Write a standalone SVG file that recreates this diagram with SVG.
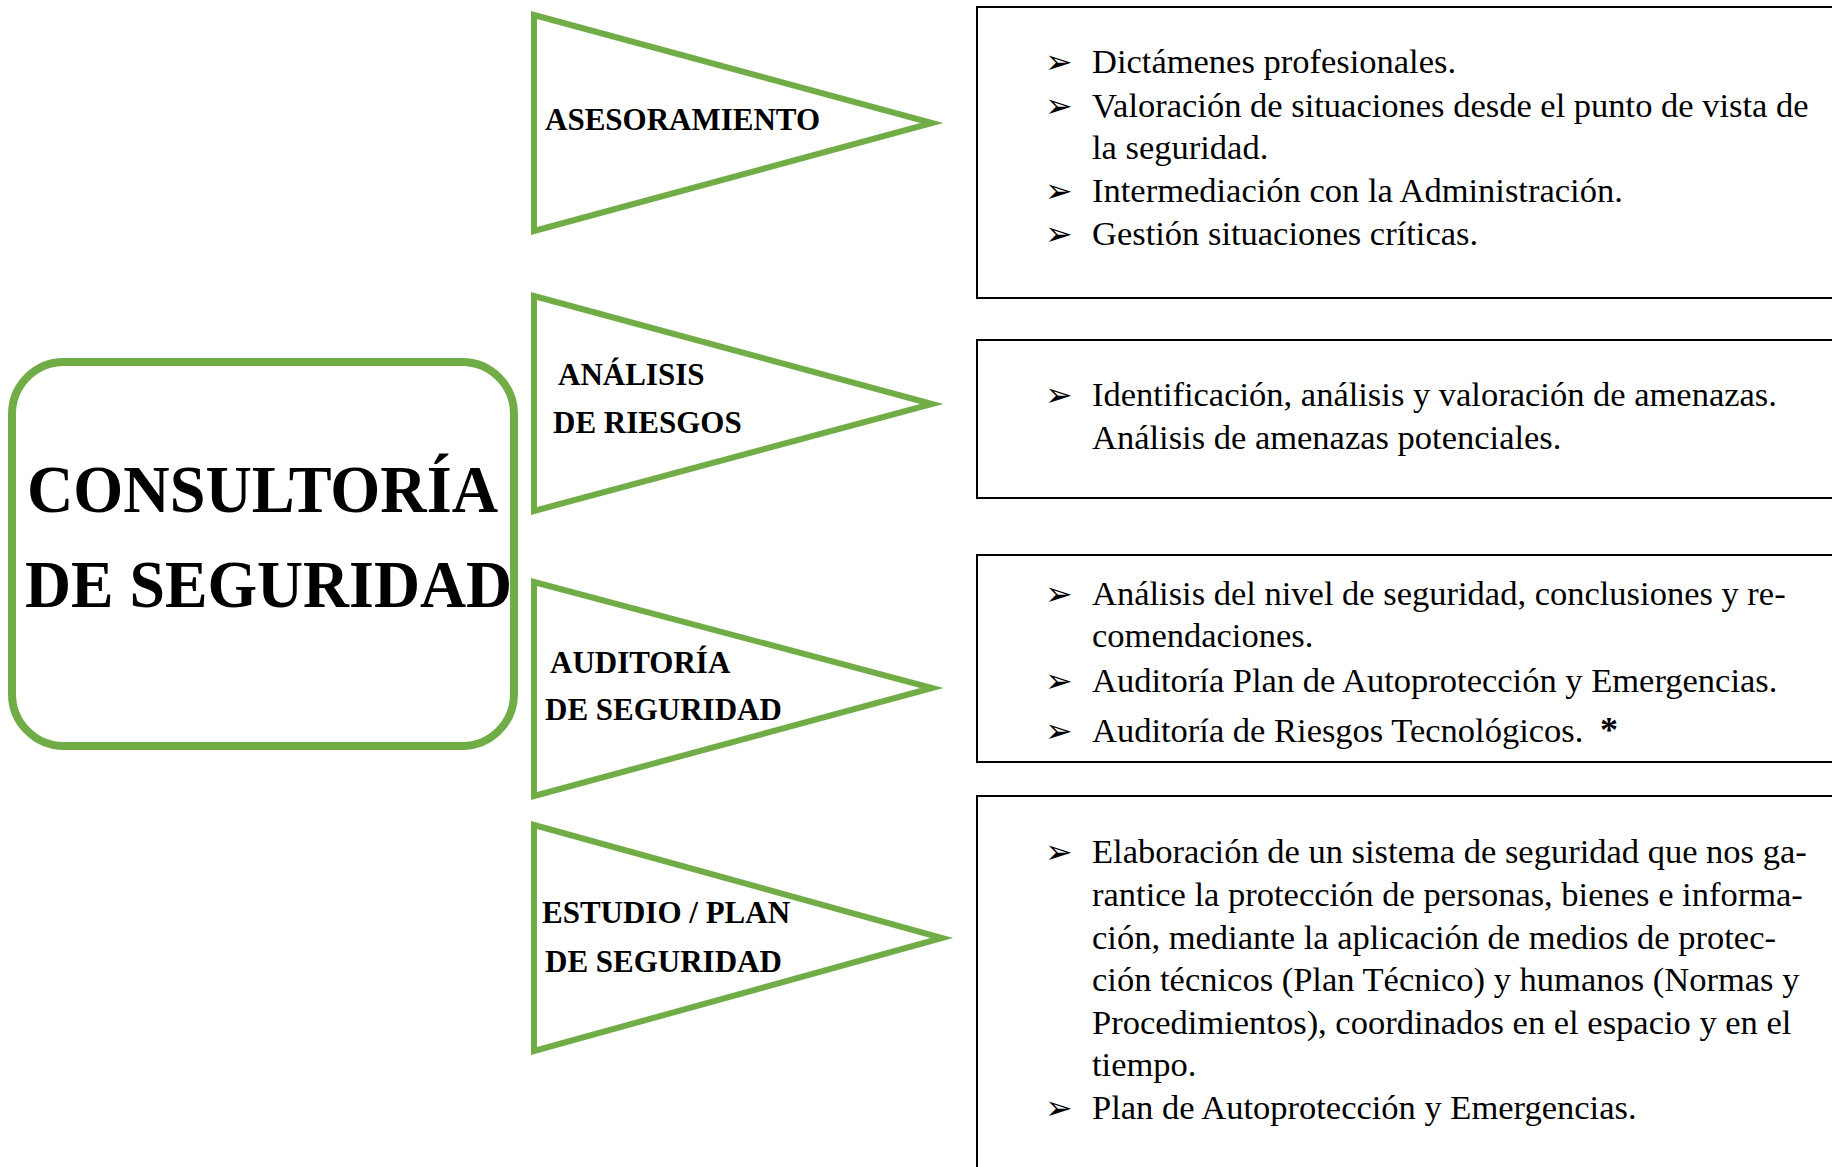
<svg xmlns="http://www.w3.org/2000/svg" width="1832" height="1167" viewBox="0 0 1832 1167">
<style>
.tri{fill:#fff;stroke:#70AD47;stroke-width:6;stroke-linejoin:miter}
.main{fill:#fff;stroke:#70AD47;stroke-width:8}
.box{fill:#fff;stroke:#000;stroke-width:2}
.lbl{font-family:"Liberation Serif","Times New Roman",serif;font-weight:bold;font-size:31px;fill:#000}
.ttl{font-family:"Liberation Serif","Times New Roman",serif;font-weight:bold;font-size:68px;fill:#000}
.txt{font-family:"Liberation Serif","Times New Roman",serif;font-size:34.5px;fill:#000}
.bul{font-family:"DejaVu Sans",sans-serif;font-size:33px;fill:#000}
.ast{font-family:"Liberation Serif","Times New Roman",serif;font-weight:bold;font-size:36px;fill:#000}
</style>
<rect width="1832" height="1167" fill="#fff"/>
<g id="connectors"></g>
<g id="node-consultoria">
<rect class="main" x="12" y="362" width="502" height="384" rx="52" ry="52"/>
<text class="ttl" x="27" y="512" textLength="471" lengthAdjust="spacingAndGlyphs">CONSULTORÍA</text>
<text class="ttl" x="25" y="607" textLength="487" lengthAdjust="spacingAndGlyphs">DE SEGURIDAD</text>
</g>
<g id="node-asesoramiento">
<polygon class="tri" points="534,15 932,123 534,231"/>
<text class="lbl" x="545" y="130">ASESORAMIENTO</text>
</g>
<g id="node-analisis">
<polygon class="tri" points="534,296 932,404 534,511"/>
<text class="lbl" x="558" y="385">ANÁLISIS</text>
<text class="lbl" x="553" y="433">DE RIESGOS</text>
</g>
<g id="node-auditoria">
<polygon class="tri" points="534,582 932,688 534,796"/>
<text class="lbl" x="550" y="673">AUDITORÍA</text>
<text class="lbl" x="545" y="720">DE SEGURIDAD</text>
</g>
<g id="node-estudio">
<polygon class="tri" points="534,825 942,938 534,1051"/>
<text class="lbl" x="542" y="923">ESTUDIO / PLAN</text>
<text class="lbl" x="545" y="972">DE SEGURIDAD</text>
</g>
<g id="node-box-asesoramiento">
<rect class="box" x="977" y="7" width="870" height="291"/>
<text class="bul" x="1045" y="73">➢</text>
<text class="txt" x="1092" y="73">Dictámenes profesionales.</text>
<text class="bul" x="1045" y="117">➢</text>
<text class="txt" x="1092" y="117">Valoración de situaciones desde el punto de vista de</text>
<text class="txt" x="1092" y="159">la seguridad.</text>
<text class="bul" x="1045" y="202">➢</text>
<text class="txt" x="1092" y="202">Intermediación con la Administración.</text>
<text class="bul" x="1045" y="245">➢</text>
<text class="txt" x="1092" y="245">Gestión situaciones críticas.</text>
</g>
<g id="node-box-analisis">
<rect class="box" x="977" y="340" width="870" height="158"/>
<text class="bul" x="1045" y="406">➢</text>
<text class="txt" x="1092" y="406">Identificación, análisis y valoración de amenazas.</text>
<text class="txt" x="1092" y="449">Análisis de amenazas potenciales.</text>
</g>
<g id="node-box-auditoria">
<rect class="box" x="977" y="555" width="870" height="207"/>
<text class="bul" x="1045" y="605">➢</text>
<text class="txt" x="1092" y="605">Análisis del nivel de seguridad, conclusiones y re-</text>
<text class="txt" x="1092" y="647">comendaciones.</text>
<text class="bul" x="1045" y="692">➢</text>
<text class="txt" x="1092" y="692">Auditoría Plan de Autoprotección y Emergencias.</text>
<text class="bul" x="1045" y="742">➢</text>
<text class="txt" x="1092" y="742">Auditoría de Riesgos Tecnológicos.</text>
<text class="ast" x="1600" y="742">*</text>
</g>
<g id="node-box-estudio">
<rect class="box" x="977" y="796" width="870" height="400"/>
<text class="bul" x="1045" y="863">➢</text>
<text class="txt" x="1092" y="863">Elaboración de un sistema de seguridad que nos ga-</text>
<text class="txt" x="1092" y="906">rantice la protección de personas, bienes e informa-</text>
<text class="txt" x="1092" y="949">ción, mediante la aplicación de medios de protec-</text>
<text class="txt" x="1092" y="991">ción técnicos (Plan Técnico) y humanos (Normas y</text>
<text class="txt" x="1092" y="1034">Procedimientos), coordinados en el espacio y en el</text>
<text class="txt" x="1092" y="1076">tiempo.</text>
<text class="bul" x="1045" y="1119">➢</text>
<text class="txt" x="1092" y="1119">Plan de Autoprotección y Emergencias.</text>
</g>
</svg>
